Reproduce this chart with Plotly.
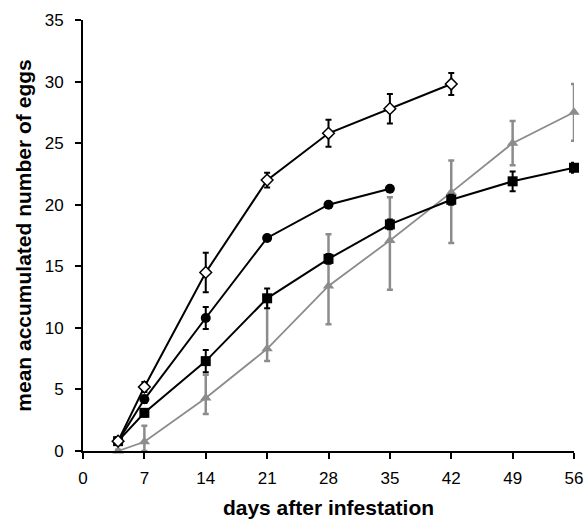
import plotly.graph_objects as go

days = [4, 7, 14, 21, 28, 35, 42, 49, 56]

diamond_y = [0.8, 5.2, 14.5, 22.0, 25.8, 27.8, 29.8]
diamond_err = [0.3, 0.4, 1.6, 0.6, 1.1, 1.2, 0.9]

circle_y = [0.8, 4.2, 10.8, 17.3, 20.0, 21.3]
circle_err = [0.3, 0.3, 0.9, 0.2, 0.2, 0.2]

square_y = [0.8, 3.1, 7.3, 12.4, 15.6, 18.4, 20.4, 21.9, 23.0]
square_err = [0.3, 0.3, 0.9, 0.8, 0.4, 0.4, 0.4, 0.8, 0.4]

tri_y = [0.0, 0.75, 4.3, 8.3, 13.4, 17.1, 21.0, 25.0, 27.5]
tri_err_plus = [0.1, 1.3, 1.9, 4.0, 4.2, 3.5, 2.6, 1.8, 2.3]
tri_err_minus = [0.1, 0.75, 1.3, 1.0, 3.1, 4.0, 4.1, 1.8, 2.3]

x_ticks = [0, 7, 14, 21, 28, 35, 42, 49, 56]
y_ticks = [0, 5, 10, 15, 20, 25, 30, 35]

GRAY = "#8c8c8c"

fig = go.Figure()

fig.add_trace(go.Scatter(
    x=days[:len(tri_y)], y=tri_y, mode="lines+markers", cliponaxis=False,
    line=dict(color=GRAY, width=1.8),
    marker=dict(symbol="triangle-up", size=10, color=GRAY),
    error_y=dict(type="data", symmetric=False, array=tri_err_plus,
                 arrayminus=tri_err_minus, color=GRAY, thickness=2.5, width=3),
    showlegend=False))

fig.add_trace(go.Scatter(
    x=days[:len(square_y)], y=square_y, mode="lines+markers", cliponaxis=False,
    line=dict(color="black", width=2),
    marker=dict(symbol="square", size=10, color="black"),
    error_y=dict(type="data", array=square_err, color="black", thickness=2, width=3),
    showlegend=False))

fig.add_trace(go.Scatter(
    x=days[:len(circle_y)], y=circle_y, mode="lines+markers", cliponaxis=False,
    line=dict(color="black", width=2),
    marker=dict(symbol="circle", size=10, color="black"),
    error_y=dict(type="data", array=circle_err, color="black", thickness=2, width=3),
    showlegend=False))

fig.add_trace(go.Scatter(
    x=days[:len(diamond_y)], y=diamond_y, mode="lines+markers", cliponaxis=False,
    line=dict(color="black", width=2),
    marker=dict(symbol="diamond", size=9, color="white",
                line=dict(color="black", width=1.5)),
    error_y=dict(type="data", array=diamond_err, color="black", thickness=2, width=3),
    showlegend=False))

fig.update_layout(
    width=587, height=519,
    margin=dict(l=83, r=13, t=20, b=68),
    paper_bgcolor="white", plot_bgcolor="white",
    font=dict(family="Liberation Sans, Arial, sans-serif", size=17, color="black"),
    xaxis=dict(range=[0, 56], tickvals=x_ticks, ticktext=[str(v) for v in x_ticks],
               automargin=False, tickfont=dict(size=17), ticklabelstandoff=5,
               showgrid=False, zeroline=False, showline=True, linecolor="black",
               linewidth=2, ticks="outside", ticklen=6, tickwidth=1.5, tickcolor="black",
               title=dict(text="<b>days after infestation</b>", font=dict(size=21), standoff=17)),
    yaxis=dict(range=[0, 35], tickvals=y_ticks, ticktext=[str(v) for v in y_ticks],
               automargin=False, tickfont=dict(size=17), ticklabelstandoff=8,
               showgrid=False, zeroline=False, showline=True, linecolor="black",
               linewidth=2, ticks="outside", ticklen=6, tickwidth=1.5, tickcolor="black",
               title=dict(text="<b>mean accumulated number of eggs</b>", font=dict(size=21), standoff=7)),
)

fig.write_html("out.html", config={"displayModeBar": False},
               post_script="document.body.style.margin='0';document.body.style.overflow='hidden';")
